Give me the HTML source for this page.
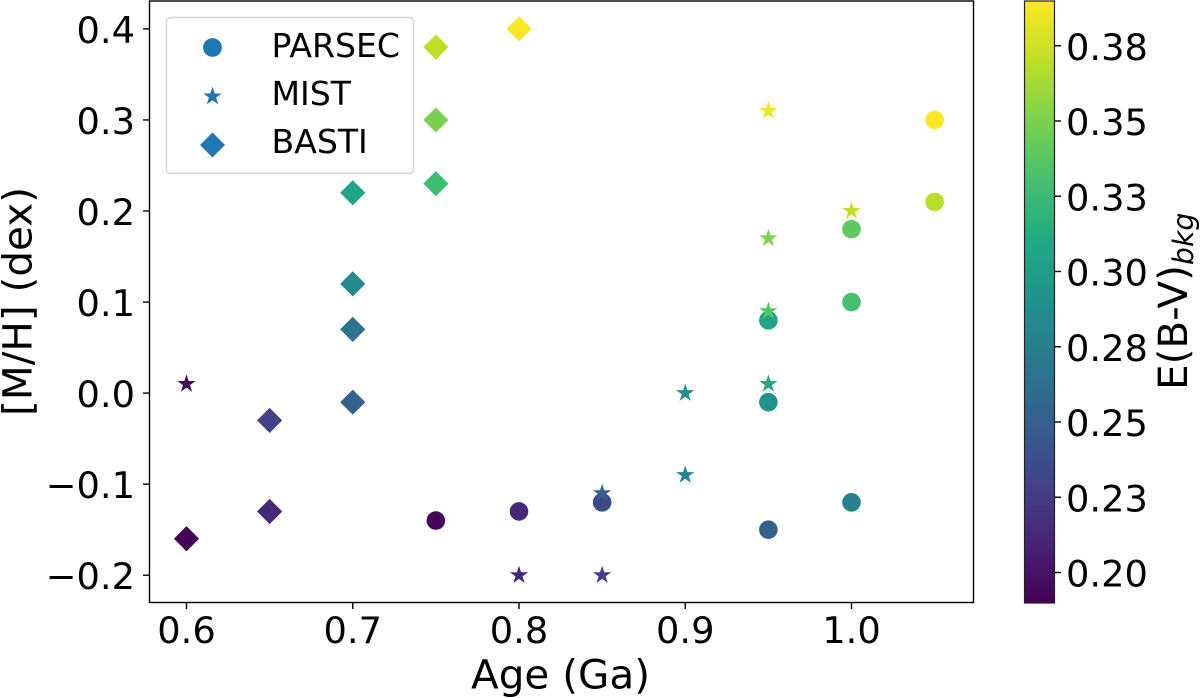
<!DOCTYPE html>
<html>
<head>
<meta charset="utf-8">
<title>Age vs metallicity scatter</title>
<style>
html,body{margin:0;padding:0;background:#fff;}
svg{display:block;}
text{font-family:"DejaVu Sans","Liberation Sans",sans-serif;fill:#000;}
</style>
</head>
<body>
<svg id="fig" xmlns="http://www.w3.org/2000/svg" width="1200" height="698" viewBox="0 0 1200 698">
  <defs>
    <linearGradient id="viridis" x1="0" y1="1" x2="0" y2="0">
      <stop offset="0" stop-color="#440154"/><stop offset="0.1" stop-color="#482475"/>
      <stop offset="0.2" stop-color="#414487"/><stop offset="0.3" stop-color="#355f8d"/>
      <stop offset="0.4" stop-color="#2a788e"/><stop offset="0.5" stop-color="#21918c"/>
      <stop offset="0.6" stop-color="#22a884"/><stop offset="0.7" stop-color="#44bf70"/>
      <stop offset="0.8" stop-color="#7ad151"/><stop offset="0.9" stop-color="#bddf26"/>
      <stop offset="1" stop-color="#fde725"/>
    </linearGradient>
  </defs>
  <rect x="149.5" y="1" width="824" height="601.5" fill="#fff"/>
  <g id="marks"></g>
  <rect x="149.5" y="1" width="824" height="601.5" fill="none" stroke="#000" stroke-width="1.4"/>
  <g id="xticks"></g>
  <g id="yticks"></g>
  <text x="560.5" y="688.3" font-size="40.5" text-anchor="middle">Age (Ga)</text>
  <text transform="translate(31.7,301.5) rotate(-90)" font-size="40.5" text-anchor="middle">[M/H] (dex)</text>

  <g>
    <rect x="166.5" y="17.5" width="247" height="156" rx="4" fill="#fff" fill-opacity="0.9" stroke="#d4d4d4" stroke-width="1.4"/>
    <g>
      <circle cx="212.5" cy="47.5" r="9.4" fill="#1f77b4"/>
      <text x="271.5" y="57" font-size="33.1">PARSEC</text>
    </g>
    <g>
      <polygon id="legend-star" fill="#1f77b4" points=""/>
      <text x="271.5" y="105" font-size="33.1">MIST</text>
    </g>
    <g>
      <polygon points="212.5,132.5 225,145 212.5,157.5 200,145" fill="#1f77b4"/>
      <text x="271.5" y="153" font-size="33.1">BASTI</text>
    </g>
  </g>

  <rect x="1024.5" y="1" width="30" height="602" fill="url(#viridis)" stroke="#222" stroke-width="1.2"/>
  <g id="cticks"></g>
  <text transform="translate(1187,390) rotate(-90)" font-size="40.5">E(B-V)<tspan font-size="28.4" font-style="italic" dy="6">bkg</tspan></text>
</svg>
<script>
const parsecAge = [0.75, 0.80, 0.85, 0.95, 1.00, 0.95, 0.95, 1.00, 1.00, 1.05, 1.05];
const parsecMH  = [-0.14, -0.13, -0.12, -0.15, -0.12, -0.01, 0.08, 0.10, 0.18, 0.21, 0.30];
const parsecEBV = [0.193, 0.212, 0.232, 0.250, 0.277, 0.292, 0.305, 0.330, 0.340, 0.368, 0.390];

const mistAge = [0.60, 0.80, 0.85, 0.85, 0.90, 0.90, 0.95, 0.95, 0.95, 1.00, 0.95];
const mistMH  = [0.01, -0.20, -0.20, -0.11, -0.09, 0.00, 0.01, 0.09, 0.17, 0.20, 0.31];
const mistEBV = [0.195, 0.212, 0.228, 0.252, 0.278, 0.290, 0.310, 0.337, 0.352, 0.372, 0.385];

const bastiAge = [0.60, 0.65, 0.65, 0.70, 0.70, 0.70, 0.70, 0.75, 0.75, 0.75, 0.80];
const bastiMH  = [-0.16, -0.13, -0.03, -0.01, 0.07, 0.12, 0.22, 0.23, 0.30, 0.38, 0.40];
const bastiEBV = [0.192, 0.212, 0.228, 0.250, 0.265, 0.285, 0.307, 0.327, 0.350, 0.370, 0.390];

const xTickValues = [0.6, 0.7, 0.8, 0.9, 1.0];
const xTickLabels = ["0.6", "0.7", "0.8", "0.9", "1.0"];
const yTickValues = [-0.2, -0.1, 0.0, 0.1, 0.2, 0.3, 0.4];
const yTickLabels = ["\u22120.2", "\u22120.1", "0.0", "0.1", "0.2", "0.3", "0.4"];
const cTickValues = [0.2, 0.225, 0.25, 0.275, 0.3, 0.325, 0.35, 0.375];
const cTickLabels = ["0.20", "0.23", "0.25", "0.28", "0.30", "0.33", "0.35", "0.38"];

const cMin = 0.19, cMax = 0.39;
const viridis = [[68,1,84],[72,36,117],[65,68,135],[53,95,141],[42,120,142],[33,145,140],[34,168,132],[68,191,112],[122,209,81],[189,223,38],[253,231,37]];
const NS = "http://www.w3.org/2000/svg";

function xScale(v){ return 186.5 + (v - 0.6) * 1662.5; }
function yScale(v){ return 575.2 - (v + 0.2) * 910.5; }
function cScale(v){ return 572.5 - (v - 0.2) * 3010; }
function colorOf(v){
  let t = Math.max(0, Math.min(1, (v - cMin) / (cMax - cMin))) * (viridis.length - 1);
  let i = Math.min(viridis.length - 2, Math.floor(t)), f = t - i;
  let c = viridis[i].map(function(a, k){ return Math.round(a + (viridis[i + 1][k] - a) * f); });
  return "rgb(" + c.join(",") + ")";
}
function starPoints(cx, cy, R){
  let r = R * 0.382, pts = [];
  for (let i = 0; i < 10; i++){
    let a = -Math.PI / 2 + i * Math.PI / 5, q = i % 2 ? r : R;
    pts.push((cx + q * Math.cos(a)).toFixed(2) + "," + (cy + q * Math.sin(a)).toFixed(2));
  }
  return pts.join(" ");
}
function diamondPoints(cx, cy, R){
  return [cx + "," + (cy - R), (cx + R) + "," + cy, cx + "," + (cy + R), (cx - R) + "," + cy].join(" ");
}

document.getElementById("legend-star").setAttribute("points", starPoints(212.5, 96.5, 9.8));

const marks = document.getElementById("marks");
parsecAge.forEach(function(a, i){
  const el = document.createElementNS(NS, "circle");
  
  
  el.setAttribute("cx", xScale(a));
  el.setAttribute("cy", yScale(parsecMH[i]));
  el.setAttribute("r", 9.3);
  el.setAttribute("fill", colorOf(parsecEBV[i]));
  marks.appendChild(el);
});
mistAge.forEach(function(a, i){
  const el = document.createElementNS(NS, "polygon");
  
  
  el.setAttribute("points", starPoints(xScale(a), yScale(mistMH[i]), 9.6));
  el.setAttribute("fill", colorOf(mistEBV[i]));
  marks.appendChild(el);
});
bastiAge.forEach(function(a, i){
  const el = document.createElementNS(NS, "polygon");
  
  
  el.setAttribute("points", diamondPoints(xScale(a), yScale(bastiMH[i]), 12.6));
  el.setAttribute("fill", colorOf(bastiEBV[i]));
  marks.appendChild(el);
});

function tickLine(parent, x1, y1, x2, y2){
  const el = document.createElementNS(NS, "line");
  
  
  el.setAttribute("x1", x1);
  el.setAttribute("y1", y1);
  el.setAttribute("x2", x2);
  el.setAttribute("y2", y2);
  el.setAttribute("stroke", "#000");
  el.setAttribute("stroke-width", 1.4);
  parent.appendChild(el);
}
function tickText(parent, x, y, anchor, str){
  const el = document.createElementNS(NS, "text");
  
  
  el.setAttribute("x", x);
  el.setAttribute("y", y);
  el.setAttribute("font-size", 36.8);
  el.setAttribute("text-anchor", anchor);
  el.textContent = str;
  parent.appendChild(el);
}
const xg = document.getElementById("xticks");
xTickValues.forEach(function(v, i){
  const px = xScale(v);
  tickLine(xg, px, 602.5, px, 609);
  tickText(xg, px, 643, "middle", xTickLabels[i]);
});
const yg = document.getElementById("yticks");
yTickValues.forEach(function(v, i){
  const py = yScale(v);
  tickLine(yg, 149.5, py, 143, py);
  tickText(yg, 135, py + 14, "end", yTickLabels[i]);
});
const cg = document.getElementById("cticks");
cTickValues.forEach(function(v, i){
  const py = cScale(v);
  tickLine(cg, 1054.5, py, 1061, py);
  tickText(cg, 1066, py + 14, "start", cTickLabels[i]);
});
</script>
</body>
</html>
